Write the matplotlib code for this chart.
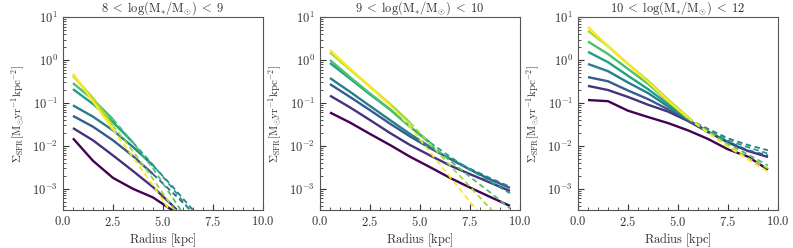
import matplotlib
matplotlib.use("Agg")
import matplotlib.pyplot as plt
import numpy as np
from matplotlib.ticker import AutoMinorLocator, LogLocator

plt.rcParams['font.family'] = 'serif'
plt.rcParams['font.serif'] = ['cmr10']
plt.rcParams['mathtext.fontset'] = 'cm'
plt.rcParams['axes.formatter.use_mathtext'] = True

radius = [0.5, 1.5, 2.5, 3.5, 4.5, 5.5, 6.5, 7.5, 8.5, 9.5]

titles = [r'$8\;<\;\log(\rm M_{*}/M_{\odot})\;<\;9$',
          r'$9\;<\;\log(\rm M_{*}/M_{\odot})\;<\;10$',
          r'$10\;<\;\log(\rm M_{*}/M_{\odot})\;<\;12$']

# profiles per mass bin, ordered from the lowest (purple) to the highest (yellow) bin
sfr_low = [
    [0.015, 4.5e-3, 1.8e-3, 1.0e-3, 6.3e-4, 3.1e-4],
    [0.026, 0.0135, 6.0e-3, 2.6e-3, 1.1e-3, 4.0e-4, 1.5e-4],
    [0.05, 0.028, 0.0135, 5.8e-3, 2.2e-3, 8.0e-4, 2.8e-4],
    [0.088, 0.048, 0.023, 9.5e-3, 3.5e-3, 1.1e-3, 3.2e-4],
    [0.21, 0.095, 0.036, 0.012, 3.6e-3, 1.0e-3, 2.6e-4],
    [0.29, 0.12, 0.042, 0.012, 3.0e-3, 6.0e-4, 1.2e-4],
    [0.43, 0.13, 0.03, 7.5e-3, 1.7e-3, 3.6e-4, 8e-5],
    [0.48, 0.11, 0.024, 5.5e-3, 1.2e-3, 2.4e-4],
]
sfr_mid = [
    [0.060, 0.035, 0.019, 0.0105, 0.0056, 0.0032, 0.0018, 0.00107, 0.00065, 0.0004],
    [0.148, 0.079, 0.040, 0.020, 0.0105, 0.006, 0.0035, 0.0022, 0.0014, 0.00089],
    [0.275, 0.138, 0.068, 0.033, 0.0166, 0.0089, 0.005, 0.0028, 0.00166, 0.00105],
    [0.38, 0.182, 0.085, 0.04, 0.019, 0.0095, 0.005, 0.00295, 0.00178, 0.00112],
    [0.85, 0.37, 0.158, 0.071, 0.028, 0.012, 0.0056, 0.0028, 0.00148, 0.00079],
    [1.0, 0.40, 0.166, 0.071, 0.028, 0.0112, 0.0045, 0.0019, 0.00083, 0.00035],
    [1.5, 0.60, 0.24, 0.095, 0.035, 0.0112, 0.0035, 0.00112, 0.00035, 0.000112],
    [1.7, 0.63, 0.24, 0.089, 0.028, 0.0071, 0.0019, 0.0005, 0.00014],
]
sfr_high = [
    [0.117, 0.11, 0.066, 0.047, 0.034, 0.023, 0.0145, 0.0083, 0.0056, 0.0028],
    [0.25, 0.2, 0.138, 0.091, 0.063, 0.038, 0.021, 0.012, 0.0076, 0.0055],
    [0.4, 0.32, 0.195, 0.123, 0.071, 0.04, 0.022, 0.0126, 0.0079, 0.006],
    [0.81, 0.55, 0.3, 0.17, 0.083, 0.042, 0.025, 0.015, 0.0105, 0.0079],
    [1.55, 0.89, 0.43, 0.21, 0.095, 0.042, 0.024, 0.0135, 0.0093, 0.0066],
    [2.7, 1.38, 0.62, 0.28, 0.11, 0.045, 0.022, 0.0112, 0.0063, 0.0035],
    [4.8, 2.1, 0.81, 0.33, 0.12, 0.047, 0.021, 0.01, 0.0052, 0.003],
    [5.9, 2.1, 0.81, 0.31, 0.112, 0.045, 0.02, 0.0095, 0.0048, 0.0025],
]
# index of the last point that is drawn solid (dashed afterwards)
solid_low = [5, 5, 4, 4, 3, 2, 2, 2]
solid_mid = [9, 9, 9, 5, 5, 4, 4, 3]
solid_high = [9, 9, 6, 5, 5, 5, 5, 5]

panels = [(sfr_low, solid_low), (sfr_mid, solid_mid), (sfr_high, solid_high)]
colors = plt.cm.viridis(np.linspace(0, 1, 8))

fig = plt.figure(figsize=(7.93, 2.48), dpi=100)
lefts = [0.0794, 0.4035, 0.7289]

for i, (profiles, solid) in enumerate(panels):
    ax = fig.add_axes([lefts[i], 0.153, 0.2522, 0.778])
    for j, prof in enumerate(profiles):
        r = radius[:len(prof)]
        k = solid[j]
        ax.plot(r[:k + 1], prof[:k + 1], color=colors[j], lw=1.7, solid_capstyle='butt')
        if k < len(prof) - 1:
            ax.plot(r[k:], prof[k:], color=colors[j], lw=1.3, ls=(0, (3, 2)))
    ax.set_yscale('log')
    ax.set_xlim(0, 10)
    ax.set_ylim(3.2e-4, 10)
    ax.set_xticks([0, 2.5, 5, 7.5, 10])
    ax.xaxis.set_minor_locator(AutoMinorLocator())
    ax.yaxis.set_major_locator(LogLocator(base=10, numticks=10))
    ax.yaxis.set_minor_locator(LogLocator(base=10, subs=np.arange(2, 10), numticks=20))
    ax.tick_params(which='both', direction='in', top=False, right=False,
                   labelsize=9, colors='#333333')
    ax.tick_params(which='major', length=4, width=0.8)
    ax.tick_params(which='minor', length=2, width=0.6)
    for s in ax.spines.values():
        s.set_color('#555555')
        s.set_linewidth(0.8)
    ax.set_xlabel(r'$\rm Radius\ [kpc]$', fontsize=9, color='#333333', labelpad=2)
    ax.set_ylabel(r'$\Sigma_{\rm SFR}[\rm M_{\odot}yr^{-1}kpc^{-2}]$', fontsize=8,
                  color='#333333', labelpad=4)
    ax.set_title(titles[i], fontsize=9, color='#333333', pad=3)

fig.savefig('out.png', dpi=100)
